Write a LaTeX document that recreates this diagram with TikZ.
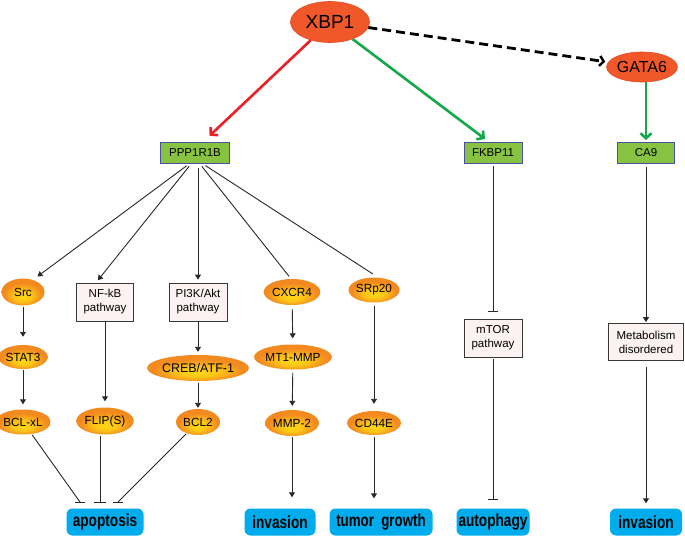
\documentclass[tikz,border=0pt]{standalone}
\usepackage{fontspec}
\usepackage{graphicx}
\setmainfont{Liberation Sans}
\usetikzlibrary{shapes.geometric,arrows.meta}
\definecolor{xbpred}{RGB}{240,88,42}
\definecolor{xbpedge}{RGB}{228,75,35}
\definecolor{ory}{RGB}{255,216,20}
\definecolor{oro}{RGB}{243,138,32}
\definecolor{gfill}{RGB}{135,195,65}
\definecolor{gbord}{RGB}{75,80,165}
\definecolor{boxfill}{RGB}{252,242,242}
\definecolor{boxline}{RGB}{55,55,55}
\definecolor{outblue}{RGB}{0,172,236}
\definecolor{lncol}{RGB}{40,40,40}
\definecolor{redarr}{RGB}{236,32,36}
\definecolor{grnarr}{RGB}{20,168,75}
\pgfdeclareradialshading{orshade}{\pgfpoint{0bp}{-9bp}}{color(0bp)=(ory); color(10bp)=(ory!75!oro); color(22bp)=(oro); color(50bp)=(oro)}
\newcommand{\cond}[2][0.78]{\scalebox{#1}[1]{#2}}
\begin{document}
\begin{tikzpicture}[x=1pt,y=-1pt,
 redell/.style={ellipse, draw=xbpedge, fill=xbpred, inner sep=0pt, line width=0.6pt},
 orell/.style={ellipse, shading=orshade, inner sep=0pt, font=\fontsize{11.8}{13}\selectfont},
 greenbox/.style={rectangle, draw=gbord, fill=gfill, line width=1pt, inner sep=0pt, minimum height=21pt, font=\fontsize{11.5}{13}\selectfont},
 pbox/.style={rectangle, draw=boxline, fill=boxfill, line width=0.8pt, align=center, inner sep=0pt, minimum height=38pt, font=\fontsize{11.5}{14}\selectfont},
 outbox/.style={rectangle, rounded corners=6pt, fill=outblue, inner sep=0pt, minimum height=27pt, font=\bfseries\fontsize{17.5}{19}\selectfont},
 ln/.style={draw=lncol, line width=0.9pt},
 arr/.style={ln, -{Triangle[length=5pt,width=6pt]}},
 tee/.style={ln, -{Bar[width=10pt,line width=0.9pt]}},
 colarr/.style={line width=2.6pt, -{Straight Barb[length=5pt,width=11pt,line width=2.6pt]}},
]
\useasboundingbox (0,0) rectangle (685,538);

% top level
\node[redell, minimum width=79pt, minimum height=41pt, font=\fontsize{19}{21}\selectfont] (xbp1) at (330,22) {XBP1};
\node[redell, minimum width=62pt, minimum height=30pt, font=\fontsize{16}{18}\selectfont] (gata6) at (642,67) {GATA6};

% second level
\node[greenbox, minimum width=69pt] (ppp) at (195,153) {PPP1R1B};
\node[greenbox, minimum width=58pt] (fkbp) at (493,153) {FKBP11};
\node[greenbox, minimum width=57pt] (ca9) at (646,153) {CA9};

% row 2
\node[orell, minimum width=43pt, minimum height=27pt] (src) at (23,292) {Src};
\node[pbox, minimum width=57pt] (nfkb) at (105,302) {NF-kB\\pathway};
\node[pbox, minimum width=58pt] (pi3k) at (198,302) {PI3K/Akt\\pathway};
\node[orell, minimum width=44pt, minimum height=26pt] (cxcr4) at (292,292) {CXCR4};
\node[orell, minimum width=45pt, minimum height=25pt] (srp20) at (374,290) {SRp20};
\node[pbox, minimum width=58pt] (mtor) at (493,338) {mTOR\\pathway};
\node[pbox, minimum width=75pt, minimum height=37pt] (metab) at (646,342) {Metabolism\\disordered};

% row 3
\node[orell, minimum width=43pt, minimum height=24pt] (stat3) at (23,357) {STAT3};
\node[orell, minimum width=82pt, minimum height=26pt, font=\fontsize{12.5}{14}\selectfont] (creb) at (198,368) {CREB/ATF-1};
\node[orell, minimum width=63pt, minimum height=25pt] (mt1) at (293,357) {MT1-MMP};

% row 4
\node[orell, minimum width=43pt, minimum height=25pt] (bclxl) at (23,422) {BCL-xL};
\node[orell, minimum width=52pt, minimum height=27pt] (flip) at (105,421) {FLIP(S)};
\node[orell, minimum width=44pt, minimum height=26pt] (bcl2) at (198,422) {BCL2};
\node[orell, minimum width=45pt, minimum height=26pt] (mmp2) at (292,423) {MMP-2};
\node[orell, minimum width=45pt, minimum height=24pt] (cd44e) at (374,423) {CD44E};

% outcomes
\node[outbox, minimum width=77pt] (apop) at (105,522) {\cond{apoptosis}};
\node[outbox, minimum width=71pt] (inv1) at (280,522) {\cond{invasion}};
\node[outbox, minimum width=103pt] (tumor) at (381,522) {\cond[0.76]{tumor\ \ growth}};
\node[outbox, minimum width=73pt] (auto) at (493,522) {\cond{autophagy}};
\node[outbox, minimum width=72pt] (inv2) at (646,522) {\cond{invasion}};

% coloured connectors
\draw[colarr, draw=redarr, shorten >=9pt] (xbp1) -- ([xshift=8pt]ppp.north);
\draw[colarr, draw=grnarr, shorten >=5pt] (xbp1) -- ([xshift=-4pt]fkbp.north);
\draw[colarr, draw=grnarr, shorten >=2pt] ([xshift=4pt]gata6.south) -- (ca9.north);
\draw[line width=2.8pt, dash pattern=on 9pt off 5pt, -{Straight Barb[length=4pt,width=10pt,line width=2.4pt]}, shorten >=3pt] (xbp1) -- (gata6);

% PPP1R1B fan
\draw[arr, shorten <=3pt, shorten >=3pt] ([xshift=-6pt]ppp.south) -- ([xshift=12pt]src.north);
\draw[arr, shorten <=3pt, shorten >=3pt] ([xshift=-4pt]ppp.south) -- ([xshift=-9pt]nfkb.north);
\draw[arr, shorten <=4pt, shorten >=3pt] ([xshift=3pt]ppp.south) -- (pi3k.north);
\draw[ln, shorten <=3pt, shorten >=3pt] ([xshift=5pt]ppp.south) -- ([xshift=-1pt]cxcr4.north);
\draw[ln, shorten <=3pt, shorten >=6pt] ([xshift=8pt]ppp.south) -- ([xshift=4pt]srp20.north);

% vertical chains
\draw[arr, shorten <=1pt, shorten >=8pt] (src) -- (stat3);
\draw[arr, shorten <=1pt, shorten >=5pt] (stat3) -- (bclxl);
\draw[arr, shorten <=1pt, shorten >=6pt] (nfkb) -- (flip);
\draw[arr, shorten <=1pt, shorten >=3pt] (pi3k) -- (creb);
\draw[arr, shorten <=2pt, shorten >=1pt] (creb) -- (bcl2);
\draw[arr, shorten <=4pt, shorten >=6pt] (cxcr4) -- (mt1);
\draw[arr, shorten <=3pt, shorten >=4pt] (mt1) -- (mmp2);
\draw[arr, shorten <=1pt, shorten >=11pt] (mmp2) -- (mmp2 |- inv1.north);
\draw[arr, shorten <=3pt, shorten >=7pt] (srp20) -- (cd44e);
\draw[arr, shorten <=2pt, shorten >=10pt] (cd44e) -- (cd44e |- tumor.north);
\draw[tee, shorten <=2pt, shorten >=7pt] (fkbp) -- (mtor);
\draw[tee, shorten <=2pt, shorten >=8pt] (mtor) -- (auto);
\draw[arr, shorten <=3pt, shorten >=1pt] (ca9) -- (metab);
\draw[arr, shorten <=6pt, shorten >=5pt] (metab) -- (inv2);

% apoptosis inhibitions
\coordinate (t1) at (80,502);
\coordinate (t2) at (100,502);
\coordinate (t3) at (118,502);
\draw[ln, shorten <=1pt] (bclxl) -- (t1);
\draw[ln] ([xshift=-5pt]t1) -- ([xshift=5pt]t1);
\draw[ln, shorten <=1pt] ([xshift=-5pt]flip.south) -- (t2);
\draw[ln] ([xshift=-6pt]t2) -- ([xshift=6pt]t2);
\draw[ln, shorten <=1pt] (bcl2) -- (t3);
\draw[ln] ([xshift=-5pt]t3) -- ([xshift=5pt]t3);
\end{tikzpicture}
\end{document}
